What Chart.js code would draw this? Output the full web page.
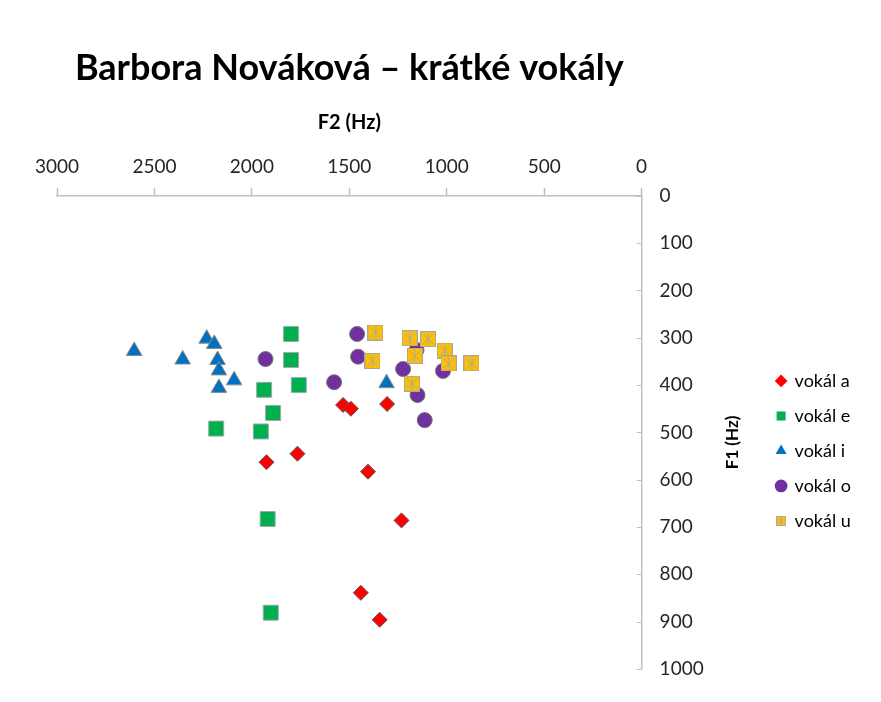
<!DOCTYPE html>
<html>
<head>
<meta charset="utf-8">
<script src="https://cdn.jsdelivr.net/npm/chart.js@4"></script>
<style>
  html, body { margin: 0; padding: 0; background: #fff; }
  #wrap { width: 881px; height: 702px; }
</style>
</head>
<body>
<div id="wrap"><canvas id="chart" width="881" height="702"></canvas></div>
<script>
const seriesNames = ['vokál a', 'vokál e', 'vokál i', 'vokál o', 'vokál u'];

// F2 (x) and F1 (y) per vowel, in Hz
const aF2 = [1532, 1492, 1306, 1925, 1766, 1404, 1232, 1441, 1344];
const aF1 = [442, 450, 440, 563, 545, 583, 686, 839, 896];
const eF2 = [1799, 1799, 1759, 1937, 1891, 1954, 2183, 1919, 1903];
const eF1 = [292, 347, 400, 410, 459, 498, 492, 683, 881];
const iF2 = [2604, 2355, 2232, 2193, 2176, 2169, 2091, 2169, 1309];
const iF1 = [328, 346, 302, 313, 347, 369, 390, 406, 396];
const oF2 = [1930, 1578, 1460, 1455, 1224, 1155, 1019, 1150, 1113];
const oF1 = [345, 394, 292, 340, 366, 326, 370, 421, 474];
const uF2 = [1366, 1381, 1190, 1096, 1164, 1010, 990, 873, 1178];
const uF1 = [289, 349, 301, 303, 338, 327, 354, 354, 397];

const xTicksMax = 3000, xStep = 500;
const yTicksMax = 1000, yStep = 100;

const pts = (xs, ys) => xs.map((x, i) => ({x: x, y: ys[i]}));

// yellow square with grey asterisk (Excel "star" marker on a filled box)
function starBox(size) {
  const c = document.createElement('canvas');
  c.width = size; c.height = size;
  const g = c.getContext('2d');
  g.fillStyle = '#ffc000';
  g.fillRect(0, 0, size, size);
  g.strokeStyle = '#a6a6a6';
  g.lineWidth = 1;
  g.strokeRect(0.5, 0.5, size - 1, size - 1);
  g.beginPath();
  const m = size / 2, p = 2;
  g.moveTo(m, p); g.lineTo(m, size - p);
  g.moveTo(p + 1, p + 1); g.lineTo(size - p - 1, size - p - 1);
  g.moveTo(size - p - 1, p + 1); g.lineTo(p + 1, size - p - 1);
  g.stroke();
  return c;
}
const uPoint = starBox(16);
const uLegend = starBox(10);

const font = 'Lato, "Open Sans", sans-serif';

const yTitlePlugin = {
  id: 'yTitle',
  afterDraw(chart) {
    const {ctx, chartArea} = chart;
    const ys = chart.scales.y;
    ctx.save();
    // small inward tick marks on the value axis
    ctx.strokeStyle = '#bfbfbf';
    ctx.lineWidth = 1;
    ys.ticks.forEach(t => {
      const py = Math.round(ys.getPixelForValue(t.value)) + 0.5;
      ctx.beginPath();
      ctx.moveTo(chartArea.right - 5, py);
      ctx.lineTo(chartArea.right, py);
      ctx.stroke();
    });
    ctx.translate(ys.right - 27, (chartArea.top + chartArea.bottom) / 2 + 10);
    ctx.rotate(-Math.PI / 2);
    ctx.font = 'bold 17px ' + font;
    ctx.fillStyle = '#000';
    ctx.textAlign = 'center';
    ctx.textBaseline = 'middle';
    ctx.fillText('F1 (Hz)', 0, 0);
    ctx.restore();
  }
};

new Chart(document.getElementById('chart'), {
  type: 'scatter',
  data: {
    datasets: [
      {label: seriesNames[0], data: pts(aF2, aF1), pointStyle: 'rectRot', pointRadius: 7.5, pointHoverRadius: 7.5,
       backgroundColor: '#ff0000', borderColor: '#595959', borderWidth: 1, order: 5},
      {label: seriesNames[1], data: pts(eF2, eF1), pointStyle: 'rect', pointRadius: 10.6, pointHoverRadius: 10.6,
       backgroundColor: '#00b050', borderColor: '#a6a6a6', borderWidth: 1, order: 4},
      {label: seriesNames[2], data: pts(iF2, iF1), pointStyle: 'triangle', pointRadius: 9, pointHoverRadius: 9,
       backgroundColor: '#0070c0', borderColor: '#8c8c8c', borderWidth: 1, order: 3},
      {label: seriesNames[3], data: pts(oF2, oF1), pointStyle: 'circle', pointRadius: 7.5, pointHoverRadius: 7.5,
       backgroundColor: '#7030a0', borderColor: '#737373', borderWidth: 1, order: 2},
      {label: seriesNames[4], data: pts(uF2, uF1), pointStyle: uPoint, pointRadius: 8,
       backgroundColor: '#ffc000', borderColor: '#a6a6a6', borderWidth: 1, order: 1}
    ]
  },
  options: {
    responsive: false,
    animation: false,
    layout: {padding: {top: 20, left: 57, right: 20, bottom: 33}},
    plugins: {
      title: {
        display: true,
        text: 'Barbora Nováková – krátké vokály',
        fullSize: false,
        color: '#000',
        font: {family: font, size: 36, weight: 'bold'},
        padding: {top: 26.4, bottom: 21.2}
      },
      legend: {
        position: 'right',
        fullSize: false,
        title: {display: true, text: '', font: {size: 10}, padding: {top: 25, bottom: 0}},
        labels: {
          usePointStyle: true,
          boxWidth: 9, boxHeight: 9,
          padding: 17,
          color: '#000',
          font: {family: font, size: 18},
          sort: (a, b) => a.datasetIndex - b.datasetIndex,
          generateLabels(chart) {
            const items = Chart.defaults.plugins.legend.labels.generateLabels(chart);
            items.forEach(it => {
              if (it.datasetIndex === 4) it.pointStyle = uLegend;
              it.lineWidth = 0;
            });
            return items;
          }
        }
      },
      tooltip: {enabled: false}
    },
    scales: {
      x: {
        type: 'linear',
        position: 'top',
        reverse: true,
        min: 0, max: xTicksMax,
        ticks: {stepSize: xStep, color: '#262626', padding: 10, font: {family: font, size: 19},
                format: {useGrouping: false}},
        grid: {drawOnChartArea: false, drawTicks: true, tickLength: 8, tickColor: '#bfbfbf', tickWidth: 1.5},
        border: {color: '#bfbfbf', width: 1.5},
        title: {display: true, text: 'F2 (Hz)', color: '#000', font: {family: font, size: 20, weight: 'bold'},
                padding: {top: 0, bottom: 24}},
        afterFit(scale) { scale.height = 85; }
      },
      y: {
        type: 'linear',
        position: 'right',
        reverse: true,
        min: 0, max: yTicksMax,
        ticks: {stepSize: yStep, color: '#262626', padding: 18, font: {family: font, size: 19},
                format: {useGrouping: false}},
        grid: {drawOnChartArea: false, drawTicks: false},
        border: {color: '#bfbfbf', width: 1.5},
        afterFit(scale) { scale.width = 118; }
      }
    }
  },
  plugins: [yTitlePlugin]
});
</script>
</body>
</html>
